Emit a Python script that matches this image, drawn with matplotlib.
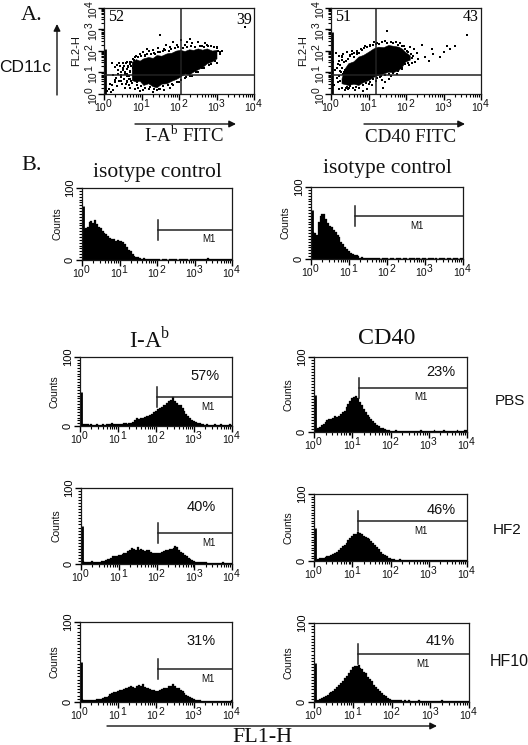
import numpy as np
import matplotlib
matplotlib.use("Agg")
import matplotlib.pyplot as plt
from matplotlib.patches import FancyArrowPatch

W, H = 528, 745
SERIF = "Liberation Serif"
SANS = "Liberation Sans"
plt.rcParams["font.family"] = SANS

# all scatter / histogram values are log10 decades
log_channels = np.linspace(0, 4, 81)

iso_left = [46, 43, 44, 46, 53, 54, 52, 55, 50, 46, 44, 40, 38, 36, 33, 31, 29, 29, 27, 28,
            27, 27, 25, 22, 18, 14, 12, 8, 6, 4, 4, 3, 2, 3, 2, 2, 1, 2, 2, 1,
            1, 1, 0, 1, 1, 1, 0, 1, 1, 1, 1, 0, 1, 1, 1, 1, 1, 0, 1, 1,
            2, 1, 2, 1, 2, 2, 1, 3, 2, 1, 2, 1, 1, 1, 2, 1, 1, 1, 2, 1, 2]
iso_right = [40, 38, 36, 34, 52, 60, 63, 62, 55, 50, 46, 44, 40, 37, 33, 30, 24, 21, 17, 14,
             11, 9, 7, 6, 5, 4, 2, 3, 2, 1, 2, 1, 1, 2, 1, 1, 1, 0, 1, 1,
             1, 0, 1, 1, 0, 1, 1, 1, 0, 1, 1, 0, 1, 1, 1, 0, 1, 1, 0, 1,
             1, 0, 1, 1, 1, 0, 1, 0, 1, 1, 1, 0, 1, 1, 0, 1, 1, 1, 0, 1, 1]
iab_pbs = [4, 3, 3, 3, 3, 2, 3, 2, 2, 3, 2, 2, 3, 2, 3, 3, 3, 4, 3, 3,
           3, 3, 3, 4, 4, 3, 4, 5, 6, 8, 11, 10, 11, 12, 13, 14, 15, 16, 18, 20,
           22, 24, 26, 28, 30, 31, 33, 36, 38, 42, 36, 33, 31, 30, 26, 22, 18, 14, 11, 9,
           7, 6, 5, 4, 3, 3, 2, 3, 2, 2, 2, 3, 2, 2, 3, 1, 2, 2, 1, 3, 2]
cd40_pbs = [2, 4, 5, 7, 9, 11, 13, 16, 18, 17, 19, 22, 20, 22, 24, 27, 28, 33, 38, 42,
            45, 47, 48, 46, 40, 36, 31, 27, 23, 20, 17, 15, 12, 10, 8, 6, 5, 4, 3, 3,
            2, 2, 2, 3, 1, 2, 2, 1, 2, 1, 1, 2, 1, 2, 1, 2, 3, 1, 2, 1,
            2, 1, 2, 3, 1, 2, 1, 1, 3, 1, 2, 1, 2, 2, 1, 3, 2, 1, 2, 3, 3]
iab_hf2 = [3, 4, 3, 3, 3, 3, 4, 3, 3, 2, 3, 4, 4, 5, 6, 7, 8, 10, 11, 11,
           12, 12, 13, 14, 14, 17, 19, 21, 20, 18, 22, 19, 20, 18, 17, 18, 19, 16, 14, 15,
           14, 15, 15, 16, 17, 18, 19, 20, 20, 21, 24, 22, 19, 16, 14, 12, 10, 8, 7, 5,
           4, 3, 3, 2, 2, 2, 2, 1, 1, 1, 1, 1, 1, 1, 1, 2, 1, 1, 1, 1, 1]
cd40_hf2 = [2, 2, 3, 4, 5, 5, 6, 7, 8, 9, 11, 12, 14, 17, 20, 22, 24, 27, 31, 35,
            38, 40, 41, 43, 42, 41, 37, 36, 34, 33, 30, 27, 24, 21, 18, 14, 11, 9, 7, 5,
            4, 3, 3, 2, 2, 3, 2, 2, 2, 1, 2, 1, 1, 2, 1, 1, 1, 2, 1, 1,
            1, 2, 1, 1, 2, 1, 1, 1, 1, 2, 1, 1, 2, 1, 1, 1, 2, 1, 1, 2, 2]
iab_hf10 = [3, 4, 3, 3, 3, 3, 3, 3, 3, 4, 4, 4, 5, 6, 6, 8, 10, 11, 12, 13,
            14, 15, 15, 16, 17, 18, 19, 20, 19, 18, 20, 21, 20, 22, 19, 18, 17, 16, 15, 15,
            14, 14, 15, 16, 17, 18, 18, 20, 20, 22, 20, 18, 17, 15, 14, 11, 9, 7, 6, 5,
            4, 3, 2, 2, 1, 1, 1, 1, 1, 1, 1, 1, 1, 1, 1, 1, 1, 1, 1, 1, 2]
cd40_hf10 = [3, 3, 3, 4, 5, 6, 8, 9, 11, 13, 14, 16, 19, 21, 24, 27, 30, 33, 37, 41,
             44, 46, 45, 47, 43, 42, 38, 37, 32, 29, 26, 22, 19, 16, 14, 11, 9, 7, 5, 4,
             3, 3, 3, 2, 2, 2, 1, 2, 1, 2, 1, 1, 1, 1, 2, 1, 1, 1, 1, 1,
             1, 1, 1, 1, 1, 1, 2, 1, 1, 1, 1, 1, 1, 1, 1, 1, 1, 1, 1, 1, 1]

# dense core of the dot plots: lower and upper edge per x position
iab_core_x = [0.74, 0.85, 0.95, 1.05, 1.18, 1.30, 1.40, 1.53, 1.67, 1.80, 1.92, 2.03, 2.15, 2.27, 2.38, 2.50, 2.62, 2.74, 2.88, 3.00]
iab_core_lo = [0.65, 0.58, 0.62, 0.42, 0.50, 0.36, 0.31, 0.48, 0.50, 0.62, 0.70, 0.81, 0.96, 0.92, 1.04, 1.15, 1.25, 1.43, 1.52, 1.66]
iab_core_hi = [1.50, 1.62, 1.55, 1.66, 1.72, 1.68, 1.81, 1.78, 1.89, 1.92, 2.02, 2.05, 2.00, 2.08, 2.05, 2.12, 2.06, 2.12, 2.02, 2.05]

cd40_core_x = [0.28, 0.37, 0.46, 0.60, 0.73, 0.86, 1.00, 1.13, 1.26, 1.40, 1.53, 1.66, 1.80, 1.90, 1.97, 2.10]
cd40_core_lo = [0.50, 0.46, 0.42, 0.48, 0.42, 0.56, 0.65, 0.80, 0.89, 0.96, 1.04, 1.02, 1.12, 1.30, 1.50, 1.60]
cd40_core_hi = [0.73, 1.20, 1.43, 1.52, 1.74, 1.82, 1.97, 2.12, 2.20, 2.18, 2.28, 2.24, 2.20, 2.10, 1.97, 1.80]

iab_stray_x = [0.08, 0.12, 0.18, 0.20, 0.25, 0.30, 0.33, 0.35, 0.38, 0.40, 0.42, 0.45, 0.48, 0.50, 0.52,
               0.55, 0.55, 0.58, 0.60, 0.62, 0.65, 0.66, 0.68, 0.70, 0.72, 0.75, 0.78, 0.60, 0.50, 0.40,
               0.25, 0.80, 0.85, 0.95, 1.05, 1.10, 1.20, 1.30, 1.35, 1.45, 1.50, 1.49, 1.60, 1.75, 1.85,
               1.95, 2.05, 2.15, 2.30, 2.35, 2.50, 2.60, 2.75, 2.85, 3.00, 3.05, 3.10, 2.90, 0.90, 0.95,
               1.05, 1.20, 1.30, 1.40, 1.50, 1.60, 1.75, 1.85, 2.00, 2.15, 2.30, 2.45, 2.60, 2.80, 3.00,
               3.76, 0.70, 0.62, 0.45, 0.35, 0.28, 0.22, 0.15, 1.15, 1.65, 2.22, 2.68, 3.15, 0.83, 0.88,
               # halo close to the cloud
               0.66, 0.70, 0.64, 0.68, 0.72, 0.62, 0.70, 0.66, 0.72, 0.78, 0.82, 0.90, 0.98, 1.08, 1.14,
               1.24, 1.34, 1.44, 1.56, 1.62, 1.72, 1.78, 1.88, 1.98, 2.10, 2.20, 2.32, 2.42, 2.55, 2.66,
               2.78, 2.92, 3.02, 3.08, 0.88, 0.98, 1.10, 1.22, 1.34, 1.46, 1.58, 1.70, 1.82, 1.94, 2.06,
               2.18, 2.34, 2.50, 2.66, 2.84, 2.96, 0.56, 0.60, 0.50, 0.44, 0.38, 0.54, 0.58, 0.46, 0.30]
iab_stray_y = [0.15, 0.25, 0.10, 0.40, 0.20, 0.55, 0.75, 0.35, 1.10, 0.60, 1.30, 0.90, 0.45, 1.20, 0.70,
               0.30, 1.00, 1.45, 0.55, 0.85, 1.30, 0.40, 1.05, 0.70, 1.50, 0.50, 1.20, 1.50, 1.45, 1.45,
               0.90, 1.60, 1.75, 1.85, 1.95, 1.75, 2.00, 2.05, 1.85, 2.15, 1.95, 2.74, 2.10, 2.20, 2.40,
               2.30, 2.50, 2.30, 2.55, 2.35, 2.40, 2.25, 2.30, 2.25, 2.20, 2.00, 1.85, 1.70, 0.30, 0.15,
               0.20, 0.25, 0.10, 0.20, 0.25, 0.20, 0.30, 0.40, 0.55, 0.75, 0.85, 1.00, 1.20, 1.35, 1.45,
               3.13, 0.28, 1.15, 0.62, 1.35, 0.65, 1.42, 0.48, 2.10, 2.30, 2.42, 2.38, 2.02, 0.25, 0.55,
               0.82, 1.02, 1.24, 1.40, 0.62, 0.92, 1.50, 0.72, 1.32, 1.62, 1.70, 1.72, 1.78, 1.80, 1.88,
               1.88, 1.92, 1.94, 2.00, 2.04, 2.02, 2.10, 2.12, 2.18, 2.14, 2.18, 2.22, 2.20, 2.24, 2.20,
               2.22, 2.18, 2.12, 1.96, 0.44, 0.36, 0.30, 0.34, 0.24, 0.22, 0.36, 0.42, 0.48, 0.58, 0.66,
               0.78, 0.82, 1.02, 1.22, 1.38, 1.54, 0.95, 0.62, 1.12, 0.80, 0.95, 1.32, 0.48, 1.02, 1.25]

cd40_stray_x = [0.05, 0.08, 0.10, 0.12, 0.15, 0.18, 0.20, 0.22, 0.25, 0.28, 0.30, 0.33, 0.36, 0.40, 0.42,
                0.45, 0.50, 0.55, 0.60, 0.65, 0.70, 0.75, 0.80, 0.90, 0.95, 1.05, 1.15, 1.22, 1.35, 1.45,
                1.60, 1.72, 1.85, 1.95, 2.10, 2.15, 2.20, 2.25, 2.30, 2.42, 2.50, 2.60, 2.70, 2.72, 2.90,
                3.00, 3.10, 3.18, 3.30, 3.63, 1.50, 1.10, 1.30, 1.45, 1.55, 1.75, 0.40, 0.70, 0.85, 1.02,
                2.02, 2.08, 2.32, 2.18, 1.90, 0.15, 0.25, 0.35, 0.18, 1.60, 1.38, 1.20,
                # halo close to the cloud
                0.22, 0.26, 0.30, 0.20, 0.24, 0.28, 0.32, 0.36, 0.34, 0.30, 0.38, 0.44, 0.42, 0.50, 0.48,
                0.56, 0.62, 0.68, 0.74, 0.82, 0.88, 0.96, 1.04, 1.12, 1.20, 1.28, 1.36, 1.50, 1.64, 1.78,
                1.88, 1.98, 2.06, 2.12, 2.16, 2.04, 1.98, 1.90, 0.40, 0.50, 0.58, 0.66, 0.74, 0.84, 0.94,
                1.04, 1.12, 1.22, 1.32, 1.44, 1.54, 1.66, 1.78, 1.86]
cd40_stray_y = [1.50, 0.40, 1.10, 1.90, 0.75, 1.40, 0.25, 1.75, 1.05, 1.60, 0.30, 1.85, 0.18, 1.55, 1.95,
                0.25, 1.80, 2.00, 1.70, 0.20, 2.00, 0.30, 2.10, 2.25, 0.25, 2.30, 2.40, 2.35, 0.65, 2.45,
                2.42, 2.40, 2.35, 2.25, 2.20, 1.42, 2.10, 1.50, 1.90, 2.30, 1.70, 1.55, 2.10, 1.85, 1.70,
                1.95, 2.25, 2.10, 2.22, 2.76, 2.94, 0.40, 0.80, 0.55, 0.72, 0.95, 0.85, 1.85, 0.15, 0.48,
                2.00, 1.35, 1.62, 1.75, 1.20, 1.20, 0.60, 1.00, 0.55, 0.85, 0.30, 0.62,
                0.85, 1.00, 1.22, 1.55, 1.36, 1.70, 0.95, 0.70, 1.48, 1.78, 1.12, 1.65, 0.32, 1.78, 0.28,
                1.84, 1.90, 1.96, 1.92, 2.06, 2.14, 2.20, 2.24, 2.30, 2.34, 2.32, 2.40, 2.36, 2.38, 2.30,
                2.22, 2.10, 1.95, 1.86, 1.68, 1.46, 1.38, 1.18, 0.30, 0.36, 0.28, 0.34, 0.30, 0.44, 0.52,
                0.58, 0.70, 0.76, 0.82, 0.90, 0.94, 0.98, 1.06, 1.22]

# how far the events piled on the left edge reach up (decades)
iab_edge_top = 2.1
cd40_edge_top = 2.9

hist_panels = [
    # values, first-channel spike, gate log x, gate count, pct label
    (iso_left, 75, 2.03, 42, None),
    (iso_right, 68, 1.16, 60, None),
    (iab_pbs, 50, 2.03, 42, "57%"),
    (cd40_pbs, 50, 1.18, 59, "23%"),
    (iab_hf2, 50, 2.03, 41, "40%"),
    (cd40_hf2, 50, 1.16, 60, "46%"),
    (iab_hf10, 50, 2.05, 41, "31%"),
    (cd40_hf10, 50, 1.14, 61, "41%"),
]

# pixel boxes (left, top, right, bottom)
hist_boxes = [
    (82, 188, 232, 260), (311, 187, 463, 259),
    (80, 357, 232, 426), (314, 357, 467, 432),
    (81, 488, 232, 564), (314, 494, 467, 561),
    (80, 622, 232, 702), (314, 623, 469, 702),
]
pct_pos = [None, None, (3.29, 72), (3.32, 80), (3.18, 75), (3.32, 76), (3.18, 76), (3.25, 77)]
m1_x = [3.39, 2.80, 3.36, 2.80, 3.39, 2.80, 3.36, 2.80]


def px_axes(fig, box):
    l, t, r, b = box
    return fig.add_axes([l / W, 1 - b / H, (r - l) / W, (b - t) / H])


def ftext(fig, x, y, s, size, family=SERIF, **kw):
    kw.setdefault("ha", "center")
    kw.setdefault("va", "center")
    fig.text(x / W, 1 - y / H, s, fontsize=size, family=family, color="#111111", **kw)


def farrow(fig, x0, y0, x1, y1):
    fig.add_artist(FancyArrowPatch(
        (x0 / W, 1 - y0 / H), (x1 / W, 1 - y1 / H), transform=fig.transFigure,
        arrowstyle="-|>", mutation_scale=10, lw=1.0, color="#111111",
        shrinkA=0, shrinkB=0))


def log_xaxis(ax):
    ax.set_xscale("log")
    ax.set_xlim(1, 1e4)
    ax.set_xticks([10.0**d for d in range(5)])
    ax.set_xticks([m * 10.0**d for d in range(4) for m in range(2, 10)], minor=True)
    ax.tick_params(axis="x", which="major", length=4, width=1.0, direction="out", labelbottom=False)
    ax.tick_params(axis="x", which="minor", length=2.5, width=0.8, direction="out", labelbottom=False)
    # the superscripts are nearly full size, so no mathtext here
    for d in range(5):
        ax.annotate("10", xy=(10.0**d, 0), xycoords=("data", "axes fraction"),
                    xytext=(1.5, -14), textcoords="offset points", ha="right", va="bottom",
                    fontsize=7.5, color="#111111")
        ax.annotate(str(d), xy=(10.0**d, 0), xycoords=("data", "axes fraction"),
                    xytext=(1.5, -11), textcoords="offset points", ha="left", va="bottom",
                    fontsize=7.5, color="#111111")


def style_frame(ax):
    for s in ax.spines.values():
        s.set_linewidth(0.9)
        s.set_color("#1a1a1a")


fig = plt.figure(figsize=(W / 100, H / 100), dpi=100)

# panel A, dot plots
dot_panels = [
    ((104, 8, 254, 94), iab_core_x, iab_core_lo, iab_core_hi, iab_stray_x, iab_stray_y, iab_edge_top, 2.05, "52", "39", 0.81),
    ((331, 8, 481, 94), cd40_core_x, cd40_core_lo, cd40_core_hi, cd40_stray_x, cd40_stray_y, cd40_edge_top, 1.20, "51", "43", 0.85),
]
for box, cx, lo, hi, sx, sy, edge_top, qx, ul, ur, ur_y in dot_panels:
    ax = px_axes(fig, box)
    log_xaxis(ax)
    ax.set_yscale("log")
    ax.set_ylim(1, 1e4)
    ax.set_yticks([10.0**d for d in range(5)])
    ax.set_yticks([m * 10.0**d for d in range(4) for m in range(2, 10)], minor=True)
    ax.tick_params(axis="y", which="major", length=4, width=1.0, labelleft=False)
    ax.tick_params(axis="y", which="minor", length=2.5, width=0.8, labelleft=False)
    for d in range(5):
        ax.annotate("10", xy=(0, 10.0**d), xycoords=("axes fraction", "data"),
                    xytext=(-4, 1), textcoords="offset points", rotation=90, ha="right", va="top",
                    fontsize=7.5, color="#111111")
        ax.annotate(str(d), xy=(0, 10.0**d), xycoords=("axes fraction", "data"),
                    xytext=(-7, 1), textcoords="offset points", rotation=90, ha="right", va="bottom",
                    fontsize=7.5, color="#111111")
    ax.fill_between(10.0 ** np.array(cx), 10.0 ** np.array(lo), 10.0 ** np.array(hi),
                    color="black", lw=0.4)
    ax.scatter(10.0 ** np.array(sx), 10.0 ** np.array(sy), s=0.6, marker="s", color="black", lw=0)
    ax.plot([1.05, 1.05], [1, 10.0**edge_top], color="black", lw=2.0, solid_capstyle="butt")
    ax.axvline(10.0**qx, color="#222222", lw=1.1)
    ax.axhline(10.0**0.88, color="#222222", lw=1.1)
    ax.text(0.03, 0.85, ul, transform=ax.transAxes, family=SERIF, fontsize=11.5)
    ax.text(0.985, ur_y, ur, transform=ax.transAxes, family=SERIF, fontsize=11.5, ha="right")
    ax.text(-0.185, 0.5, "FL2-H", transform=ax.transAxes, rotation=90, fontsize=8,
            ha="center", va="center", color="#111111")
    style_frame(ax)

# panel B, histograms
for i, (box, panel) in enumerate(zip(hist_boxes, hist_panels)):
    vals, spike, gate_x, gate_y, pct = panel
    ax = px_axes(fig, box)
    log_xaxis(ax)
    ax.set_ylim(0, 100)
    ax.fill_between(10.0**log_channels, 0, vals, step="mid", color="black", lw=0.2)
    ax.plot([1.05, 1.05], [0, spike], color="black", lw=2.0, solid_capstyle="butt")
    ax.set_yticks([0, 100])
    ax.set_yticks(np.arange(0, 100, 4), minor=True)
    ax.tick_params(axis="y", which="major", length=4, width=1.0, labelsize=8, pad=1)
    ax.tick_params(axis="y", which="minor", length=2.5, width=0.8)
    for lab in ax.get_yticklabels():
        lab.set_rotation(90)
        lab.set_va("center")
    ax.text(-0.165, 0.5, "Counts", transform=ax.transAxes, rotation=90, fontsize=7.5,
            ha="center", va="center", color="#111111")
    # M1 gate
    gx = 10.0**gate_x
    ax.plot([gx, 1e4], [gate_y, gate_y], color="#222222", lw=1.1, clip_on=False)
    tick_h = 10 / (box[3] - box[1]) * 100
    ax.plot([gx, gx], [gate_y - tick_h, gate_y + tick_h], color="#222222", lw=1.1)
    ax.annotate("M1", xy=(10.0 ** m1_x[i], gate_y), xytext=(0, -7), textcoords="offset points",
                ha="center", va="center", fontsize=7, color="#111111")
    if pct:
        px, py = pct_pos[i]
        ax.text(10.0**px, py, pct, ha="center", va="center", fontsize=10.5, color="#111111")
    style_frame(ax)

# labels and arrows outside the axes
ftext(fig, 32, 15, "A.", 16)
ftext(fig, 32, 166, "B.", 16)
ftext(fig, 25, 67, "CD11c", 12.5, family=SANS)
farrow(fig, 57, 95, 57, 24)
farrow(fig, 135, 124, 236, 124)
farrow(fig, 364, 124, 465, 124)
ftext(fig, 184, 136, r"I-A$^{\mathregular{b}}$ FITC", 13.5)
ftext(fig, 411, 137, "CD40 FITC", 13.7)
ftext(fig, 157, 172, "isotype control", 15.5)
ftext(fig, 387, 169, "isotype control", 15.5)
ftext(fig, 150, 339, r"I-A$^{\mathregular{b}}$", 16.5)
ftext(fig, 387, 339, "CD40", 17.3)
ftext(fig, 510, 401, "PBS", 11, family=SANS)
ftext(fig, 507, 530, "HF2", 11, family=SANS)
ftext(fig, 509, 662, "HF10", 11.5, family=SANS)
farrow(fig, 107, 726, 437, 726)
ftext(fig, 262, 737, "FL1-H", 15.8)

fig.savefig("out.png", dpi=100)
